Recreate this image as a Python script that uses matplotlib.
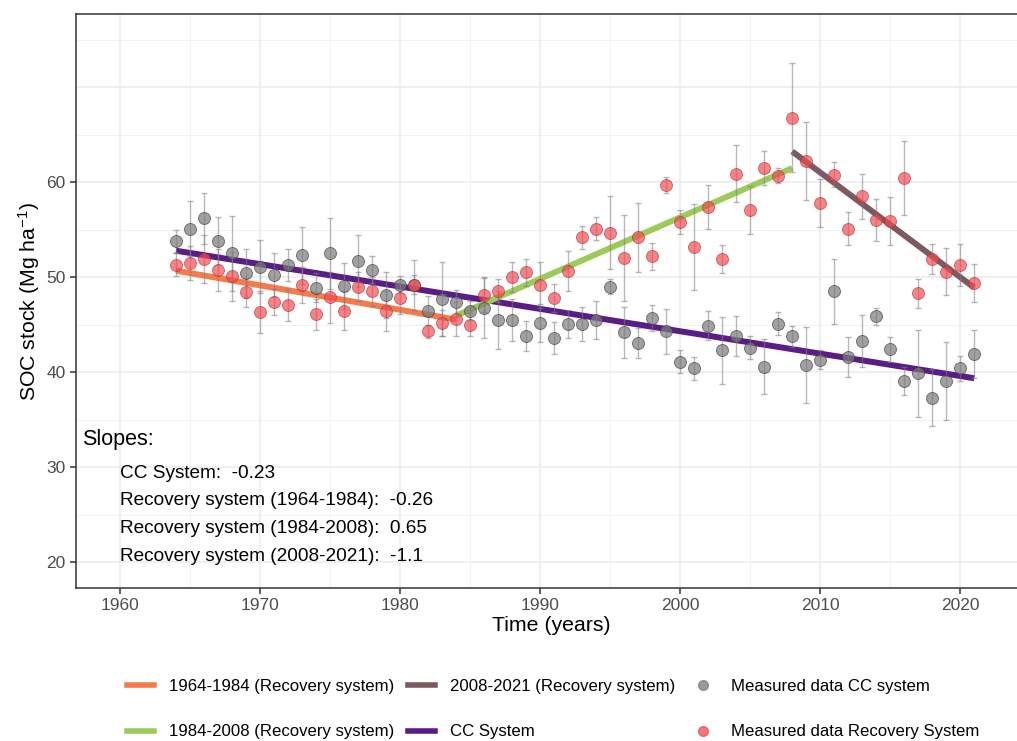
import numpy as np
import matplotlib
matplotlib.use("Agg")
import matplotlib.pyplot as plt
from matplotlib.lines import Line2D

plt.rcParams['font.family'] = ['Liberation Sans', 'DejaVu Sans']
plt.rcParams['mathtext.default'] = 'regular'

years = np.arange(1964, 2022)

# measured SOC, CC system (grey)
cc_soc = [53.8, 55.1, 56.2, 53.8, 52.5, 50.4, 51.1, 50.2, 51.3, 52.3,
          48.9, 52.5, 49.1, 51.7, 50.8, 48.1, 49.2, 49.2, 46.5, 47.7,
          47.4, 46.5, 46.8, 45.5, 45.5, 43.8, 45.2, 43.6, 45.1, 45.1,
          45.5, 49.0, 44.2, 43.1, 45.7, 44.3, 41.1, 40.4, 44.9, 42.3,
          43.8, 42.6, 40.6, 45.1, 43.8, 40.8, 41.3, 48.5, 41.6, 43.3,
          45.9, 42.4, 39.1, 39.9, 37.3, 39.1, 40.4, 41.9]
cc_sd = [1.2, 2.9, 2.7, 2.5, 3.9, 2.6, 2.8, 2.3, 1.7, 3.0,
         1.5, 3.7, 2.4, 2.7, 1.4, 2.4, 0.9, 2.6, 1.5, 3.9,
         1.3, 1.0, 3.2, 3.0, 2.2, 1.6, 2.0, 1.7, 1.5, 1.8,
         2.0, 0.8, 2.7, 1.6, 1.4, 2.4, 1.2, 1.2, 1.5, 3.5,
         2.1, 1.2, 2.9, 1.2, 1.1, 4.0, 1.0, 3.4, 2.1, 2.7,
         0.9, 1.3, 1.5, 4.6, 3.0, 4.1, 1.3, 2.5]

# measured SOC, recovery system (red)
rec_soc = [51.3, 51.5, 51.9, 50.8, 50.1, 48.4, 46.3, 47.4, 47.1, 49.2,
           46.1, 47.9, 46.5, 49.0, 48.5, 46.4, 47.8, 49.2, 44.3, 45.2,
           45.6, 45.0, 48.1, 48.6, 50.0, 50.5, 49.2, 47.8, 50.7, 54.2,
           55.1, 54.7, 52.0, 54.2, 52.2, 59.7, 55.8, 53.2, 57.4, 51.9,
           60.9, 57.1, 61.5, 60.7, 66.8, 62.2, 57.8, 60.8, 55.1, 58.5,
           56.0, 55.9, 60.4, 48.3, 51.9, 50.6, 51.3, 49.4]
rec_sd = [1.2, 1.75, 2.5, 2.2, 2.6, 1.5, 2.2, 1.4, 1.7, 1.9,
          1.6, 2.7, 2.0, 1.5, 1.5, 2.1, 1.7, 1.0, 0.7, 1.4,
          1.8, 1.2, 1.8, 1.2, 1.6, 1.4, 2.4, 1.5, 2.1, 1.2,
          1.2, 3.8, 4.5, 3.6, 1.4, 0.8, 1.3, 4.5, 2.3, 1.5,
          3.0, 2.5, 1.8, 0.8, 5.7, 4.1, 2.5, 1.3, 1.75, 2.4,
          2.2, 2.5, 3.9, 1.5, 1.6, 2.5, 2.2, 2.0]

periods = [(1964, 1984), (1984, 2008), (2008, 2021)]
period_labels = ['1964-1984 (Recovery system)', '1984-2008 (Recovery system)',
                 '2008-2021 (Recovery system)']
period_colors = ['#F47C4C', '#9DCB5B', '#7D5A61']
cc_color = '#5A1C86'

slope_lines = ['CC System:  -0.23',
               'Recovery system (1964-1984):  -0.26',
               'Recovery system (1984-2008):  0.65',
               'Recovery system (2008-2021):  -1.1']

cc_soc = np.array(cc_soc)
rec_soc = np.array(rec_soc)

fig = plt.figure(figsize=(10.17, 7.41), dpi=100)
W, H = 1017, 741
ax = fig.add_axes([76 / W, 1 - 588 / H, 950 / W, (588 - 14) / H])

ax.set_xlim(1956.86, 2024.7)
ax.set_ylim(17.3, 77.7)

# grid like theme_bw
for v in range(20, 80, 10):
    ax.axhline(v, color='#EBEBEB', lw=1.1, zorder=0)
for v in range(25, 80, 10):
    ax.axhline(v, color='#F2F2F2', lw=0.7, zorder=0)
for v in range(1960, 2030, 10):
    ax.axvline(v, color='#EBEBEB', lw=1.1, zorder=0)
for v in range(1965, 2030, 10):
    ax.axvline(v, color='#F2F2F2', lw=0.7, zorder=0)

# fitted lines
a, b = np.polyfit(years, cc_soc, 1)
ax.plot([years[0], years[-1]], [a * years[0] + b, a * years[-1] + b],
        color=cc_color, lw=4.3, solid_capstyle='butt', zorder=2)
for (y0, y1), col in zip(periods, period_colors):
    m = (years >= y0) & (years <= y1)
    a, b = np.polyfit(years[m], rec_soc[m], 1)
    ax.plot([y0, y1], [a * y0 + b, a * y1 + b], color=col, lw=4.3,
            solid_capstyle='butt', zorder=2)

# error bars and points
ax.errorbar(years, cc_soc, yerr=cc_sd, fmt='none', ecolor='#7F7F7F', alpha=0.55,
            elinewidth=1.0, capsize=2.5, capthick=1.0, zorder=3)
ax.errorbar(years, rec_soc, yerr=rec_sd, fmt='none', ecolor='#7F7F7F', alpha=0.55,
            elinewidth=1.0, capsize=2.5, capthick=1.0, zorder=3)
ax.scatter(years, cc_soc, s=75, color='#7A7A7A', alpha=0.7, edgecolors='#3A3A3A',
           linewidths=0.6, zorder=4)
ax.scatter(years, rec_soc, s=75, color='#F2484E', alpha=0.68, edgecolors='#B03035',
           linewidths=0.6, zorder=4)

# slopes annotation
ax.text(1957.3, 32.9, 'Slopes:', fontsize=15.5, va='center', ha='left')
for i, s in enumerate(slope_lines):
    ax.text(1960, 29.4 - i * 2.92, s, fontsize=13.7, va='center', ha='left')

ax.set_xticks([1960, 1970, 1980, 1990, 2000, 2010, 2020])
ax.set_yticks([20, 30, 40, 50, 60])
ax.tick_params(labelsize=12.5, labelcolor='#4D4D4D', color='#333333', length=4, width=1.1)
ax.set_xlabel('Time (years)', fontsize=15.3, labelpad=2)
ax.set_ylabel('SOC stock (Mg ha$^{-1}$)', fontsize=15.3, labelpad=3)
for sp in ax.spines.values():
    sp.set_color('#333333')
    sp.set_linewidth(1.1)

# legend
handles = [
    Line2D([], [], color=period_colors[0], lw=4),
    Line2D([], [], color=period_colors[1], lw=4),
    Line2D([], [], color=period_colors[2], lw=4),
    Line2D([], [], color=cc_color, lw=4),
    Line2D([], [], ls='none', marker='o', ms=7, color='#7A7A7A', alpha=0.75,
           markeredgecolor='#7A7A7A'),
    Line2D([], [], ls='none', marker='o', ms=7, color='#F2484E', alpha=0.75,
           markeredgecolor='#F2484E'),
]
labels = [period_labels[0], period_labels[1], period_labels[2], 'CC System',
          'Measured data CC system', 'Measured data Recovery System']
fig.legend(handles, labels, ncol=3, loc='center left',
           bbox_to_anchor=(127 / W, 1 - 709 / H), frameon=False, fontsize=12.05,
           handlelength=1.6, handletextpad=0.9, columnspacing=0.85,
           labelspacing=1.85, borderpad=0, borderaxespad=0)

fig.savefig('out.png', dpi=100)
